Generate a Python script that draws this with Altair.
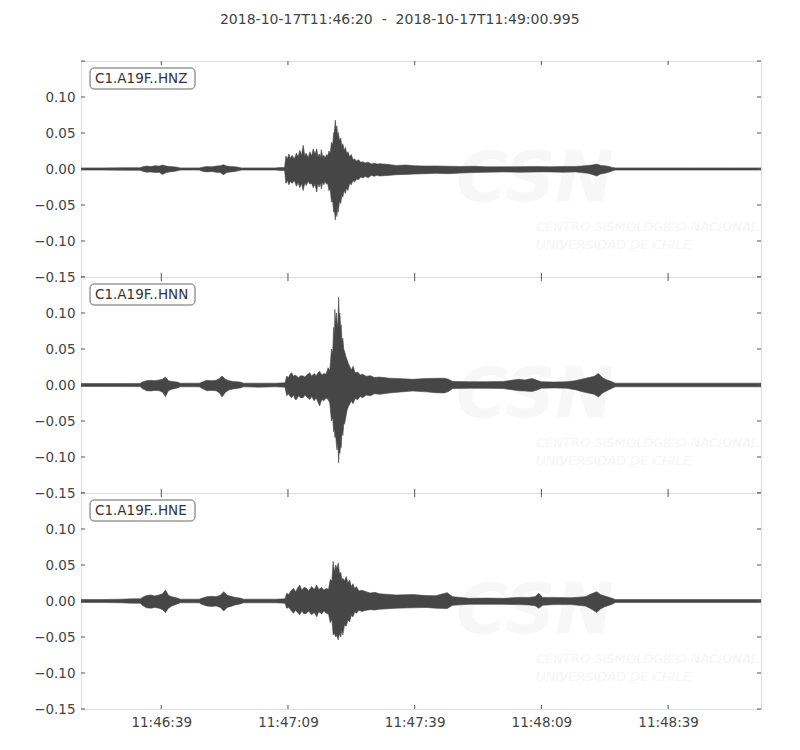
import altair as alt
import pandas as pd

title_text = "2018-10-17T11:46:20\u00a0\u00a0-\u00a0\u00a02018-10-17T11:49:00.995"
channel_names = ["C1.A19F..HNZ", "C1.A19F..HNN", "C1.A19F..HNE"]
t_end = 160.995
x_tick_seconds = [19, 49, 79, 109, 139]
x_tick_labels = ["11:46:39", "11:47:09", "11:47:39", "11:48:09", "11:48:39"]
y_tick_values = [-0.15, -0.10, -0.05, 0.0, 0.05, 0.10, 0.15]
y_label_values = [-0.15, -0.10, -0.05, 0.0, 0.05, 0.10]

# Envelopes: seconds after 11:46:20, upper / lower amplitude.
# ---- HNZ ----
hnz_pre_t = [0, 5, 10, 14, 14.6, 15.5, 16.5, 17.5, 18.5, 19.3, 20.2, 21, 22, 22.8, 23.5, 28, 28.7, 29.8, 31, 32,
             33, 33.7, 34.5, 35.5, 36.5, 37.2, 38, 46, 47]
hnz_pre_hi = [0.0015, 0.0015, 0.0018, 0.0018, 0.003, 0.004, 0.0035, 0.0045, 0.004, 0.0055, 0.004, 0.0035, 0.003,
              0.0025, 0.0015, 0.0015, 0.0025, 0.0035, 0.003, 0.004, 0.0045, 0.006, 0.004, 0.0035, 0.003, 0.0025,
              0.0015, 0.0015, 0.002]
hnz_pre_lo = [-0.0015, -0.0015, -0.0018, -0.0018, -0.003, -0.0045, -0.004, -0.005, -0.0045, -0.0075, -0.005,
              -0.004, -0.0035, -0.0025, -0.0015, -0.0015, -0.003, -0.004, -0.0035, -0.0045, -0.005, -0.008, -0.005,
              -0.004, -0.0035, -0.0025, -0.0015, -0.0015, -0.002]
hnz_main_t = [48.2, 48.5, 48.9, 49.2, 49.6, 50, 50.5, 51, 51.4, 51.8, 52.2, 52.6, 53.0, 53.3, 53.8, 54.2, 54.6, 55,
              55.4, 55.8, 56.1, 56.4, 56.7, 56.9, 57.2, 57.5, 57.8, 58.1, 58.4, 58.7, 59.0, 59.3, 59.6, 59.8, 60.0,
              60.2, 60.4, 60.6, 60.75, 60.9, 61.2, 61.5, 61.75, 62.0, 62.3, 62.6, 62.9, 63.2, 63.6, 64, 64.4, 64.8,
              65.2, 65.7, 66.2, 66.7, 67.3, 68, 68.7, 69.5, 70.1, 70.7]
hnz_main_hi = [0.002, 0.018, 0.014, 0.021, 0.015, 0.019, 0.014, 0.022, 0.017, 0.026, 0.019, 0.033, 0.018, 0.022,
               0.016, 0.024, 0.018, 0.028, 0.02, 0.028, 0.017, 0.021, 0.016, 0.027, 0.017, 0.019, 0.015, 0.020,
               0.018, 0.025, 0.022, 0.037, 0.034, 0.05, 0.052, 0.068, 0.055, 0.06, 0.045, 0.051, 0.04, 0.043,
               0.032, 0.035, 0.026, 0.03, 0.022, 0.024, 0.017, 0.02, 0.013, 0.014, 0.011, 0.013, 0.0095, 0.010,
               0.0085, 0.0095, 0.007, 0.008, 0.0068, 0.0074]
hnz_main_lo = [-0.002, -0.02, -0.016, -0.022, -0.017, -0.02, -0.016, -0.024, -0.019, -0.026, -0.02, -0.030, -0.019,
               -0.023, -0.017, -0.021, -0.02, -0.026, -0.021, -0.032, -0.02, -0.025, -0.019, -0.028, -0.018,
               -0.022, -0.017, -0.021, -0.02, -0.03, -0.028, -0.046, -0.045, -0.06, -0.058, -0.071, -0.06, -0.066,
               -0.052, -0.06, -0.045, -0.048, -0.036, -0.039, -0.03, -0.034, -0.026, -0.030, -0.02, -0.022, -0.016,
               -0.018, -0.014, -0.015, -0.011, -0.0125, -0.0105, -0.012, -0.009, -0.01, -0.0088, -0.0097]
hnz_post_t = [72.5, 74.6, 77, 79, 81.7, 84, 87, 90, 93, 96, 100, 104, 108, 111, 114, 117, 118.5, 120, 121, 122.1,
              123, 124, 125, 125.6, 126.5, 135, 145, 155, 160.995]
hnz_post_hi = [0.0065, 0.005, 0.0055, 0.0045, 0.004, 0.0042, 0.0038, 0.0035, 0.0038, 0.003, 0.003, 0.0032, 0.0035,
               0.003, 0.0035, 0.0035, 0.004, 0.005, 0.0055, 0.0068, 0.005, 0.0045, 0.0035, 0.0025, 0.0015, 0.0015,
               0.0015, 0.0015, 0.0015]
hnz_post_lo = [-0.009, -0.008, -0.0075, -0.007, -0.0065, -0.006, -0.0065, -0.0055, -0.005, -0.0045, -0.004,
               -0.0045, -0.004, -0.004, -0.0045, -0.004, -0.005, -0.006, -0.0075, -0.0097, -0.007, -0.006, -0.0045,
               -0.003, -0.0015, -0.0015, -0.0015, -0.0015, -0.0015]

# ---- HNN ----
hnn_pre_t = [0, 5, 10, 14, 14.5, 15.5, 16.5, 17.5, 18.5, 19.3, 20, 20.7, 21.5, 22.8, 23.5, 28, 28.7, 29.8, 31, 32,
             32.8, 33.4, 34.2, 35, 36, 37.7, 38.5, 42, 46]
hnn_pre_hi = [0.002, 0.002, 0.002, 0.0022, 0.004, 0.006, 0.0065, 0.006, 0.007, 0.008, 0.011, 0.006, 0.005, 0.004,
              0.0025, 0.0025, 0.004, 0.0065, 0.006, 0.0065, 0.009, 0.0125, 0.008, 0.006, 0.005, 0.004, 0.0025,
              0.0025, 0.0025]
hnn_pre_lo = [-0.002, -0.002, -0.0022, -0.0022, -0.005, -0.008, -0.0083, -0.0075, -0.008, -0.01, -0.016, -0.008,
              -0.006, -0.004, -0.0025, -0.0025, -0.005, -0.008, -0.0075, -0.008, -0.011, -0.0167, -0.01, -0.007,
              -0.0055, -0.004, -0.0025, -0.003, -0.0025]
hnn_main_t = [48.3, 48.7, 49.1, 49.5, 49.9, 50.3, 50.7, 51.0, 51.5, 52.0, 52.6, 53.0, 53.5, 54.2, 54.6, 55.2, 55.7,
              56.1, 56.5, 57.0, 57.5, 58.0, 58.5, 58.9, 59.3, 59.6, 59.8, 60.0, 60.1, 60.3, 60.5, 60.6, 60.8, 61.0,
              61.15, 61.3, 61.45, 61.6, 61.8, 62.0, 62.2, 62.4, 62.7, 63.0, 63.3, 63.6, 64.0, 64.4, 64.9, 65.5,
              66.1, 66.7, 67.5, 68.5, 69.5, 70.7]
hnn_main_hi = [0.003, 0.0125, 0.01, 0.015, 0.017, 0.012, 0.014, 0.0125, 0.01, 0.013, 0.0125, 0.011, 0.014, 0.017,
               0.012, 0.016, 0.013, 0.017, 0.019, 0.014, 0.016, 0.015, 0.024, 0.02, 0.05, 0.045, 0.08, 0.07, 0.105,
               0.085, 0.1, 0.09, 0.08, 0.122, 0.095, 0.1, 0.08, 0.084, 0.06, 0.065, 0.05, 0.047, 0.04, 0.035, 0.03,
               0.026, 0.021, 0.026, 0.017, 0.018, 0.014, 0.015, 0.012, 0.013, 0.0105, 0.011]
hnn_main_lo = [-0.003, -0.015, -0.012, -0.016, -0.0176, -0.014, -0.02, -0.02, -0.015, -0.018, -0.0176, -0.014,
               -0.017, -0.02, -0.016, -0.022, -0.018, -0.024, -0.029, -0.02, -0.022, -0.018, -0.02, -0.025, -0.05,
               -0.045, -0.065, -0.06, -0.073, -0.07, -0.085, -0.09, -0.08, -0.108, -0.09, -0.095, -0.085, -0.087,
               -0.065, -0.07, -0.055, -0.054, -0.045, -0.035, -0.03, -0.027, -0.022, -0.026, -0.019, -0.02, -0.016,
               -0.0176, -0.014, -0.015, -0.012, -0.013]
hnn_post_t = [73, 75, 78.5, 81.7, 84, 86, 87, 88, 92, 96, 100, 103.7, 105, 106.8, 108, 109, 112, 115, 117, 118.5,
              120, 121.5, 122.5, 123.5, 124.5, 125.6, 126.5, 135, 145, 155, 160.995]
hnn_post_hi = [0.0095, 0.009, 0.0079, 0.009, 0.0093, 0.0095, 0.008, 0.005, 0.0046, 0.0046, 0.005, 0.0079, 0.007,
               0.009, 0.0065, 0.0045, 0.004, 0.0045, 0.006, 0.008, 0.01, 0.012, 0.016, 0.01, 0.007, 0.005, 0.0025,
               0.0025, 0.0025, 0.0025, 0.0025]
hnn_post_lo = [-0.011, -0.01, -0.0083, -0.0095, -0.0107, -0.011, -0.009, -0.005, -0.0046, -0.0046, -0.005, -0.008,
               -0.0083, -0.009, -0.007, -0.0045, -0.004, -0.0045, -0.0065, -0.009, -0.011, -0.013, -0.0167, -0.011,
               -0.008, -0.005, -0.0025, -0.0025, -0.0025, -0.0025, -0.0025]

# ---- HNE ----
hne_pre_t = [0, 5, 9.4, 12, 14.1, 14.5, 15.5, 16.5, 17.5, 18.5, 19.3, 20, 20.7, 21.5, 22.8, 23.5, 28, 28.7, 29.8,
             31, 32, 33, 33.8, 34.6, 35.5, 36.5, 37.7, 38.5, 46]
hne_pre_hi = [0.002, 0.002, 0.0025, 0.003, 0.003, 0.005, 0.0075, 0.0083, 0.007, 0.0085, 0.01, 0.0153, 0.008, 0.006,
              0.004, 0.0025, 0.0025, 0.004, 0.006, 0.0065, 0.006, 0.008, 0.013, 0.008, 0.0065, 0.005, 0.004,
              0.0025, 0.0025]
hne_pre_lo = [-0.002, -0.002, -0.0025, -0.003, -0.003, -0.006, -0.0095, -0.01, -0.009, -0.01, -0.012, -0.016,
              -0.01, -0.007, -0.004, -0.0025, -0.0025, -0.005, -0.007, -0.0075, -0.007, -0.009, -0.014, -0.009,
              -0.0075, -0.0055, -0.004, -0.0025, -0.0025]
hne_main_t = [48.3, 48.7, 49.2, 49.7, 50.3, 50.8, 51.3, 51.8, 52.3, 52.8, 53.4, 53.9, 54.6, 55.2, 55.8, 56.3, 57.0,
              57.5, 58.1, 58.6, 59.0, 59.4, 59.7, 60.0, 60.3, 60.6, 60.9, 61.2, 61.5, 61.75, 62.0, 62.4, 62.8,
              63.2, 63.6, 64.0, 64.4, 64.8, 65.2, 65.8, 66.5, 67.5, 68.5, 69.5, 70.7]
hne_main_hi = [0.003, 0.0107, 0.009, 0.014, 0.0176, 0.013, 0.018, 0.022, 0.015, 0.019, 0.0176, 0.014, 0.02, 0.016,
               0.022, 0.016, 0.019, 0.015, 0.0176, 0.016, 0.03, 0.028, 0.055, 0.04, 0.05, 0.045, 0.053, 0.038, 0.04,
               0.03, 0.0315, 0.028, 0.034, 0.025, 0.029, 0.02, 0.024, 0.017, 0.02, 0.014, 0.015, 0.013, 0.011,
               0.012, 0.01]
hne_main_lo = [-0.003, -0.010, -0.009, -0.013, -0.017, -0.013, -0.016, -0.019, -0.014, -0.018, -0.017, -0.014,
               -0.019, -0.016, -0.022, -0.015, -0.018, -0.014, -0.017, -0.018, -0.03, -0.026, -0.047, -0.045,
               -0.05, -0.048, -0.054, -0.045, -0.05, -0.04, -0.047, -0.033, -0.035, -0.026, -0.029, -0.02, -0.022,
               -0.015, -0.017, -0.013, -0.0145, -0.013, -0.012, -0.0125, -0.0115]
hne_post_t = [74.6, 78.5, 81.7, 84, 86.7, 88, 92, 96, 100, 103.7, 106, 107.5, 108.4, 109.3, 112, 116, 119.4, 120.5,
              121.3, 122.1, 123, 124, 125.6, 126.5, 135, 145, 155, 160.995]
hne_post_hi = [0.0083, 0.009, 0.0075, 0.0074, 0.0116, 0.006, 0.0037, 0.004, 0.0037, 0.005, 0.005, 0.006, 0.0107,
               0.005, 0.005, 0.0045, 0.006, 0.009, 0.011, 0.013, 0.009, 0.007, 0.004, 0.002, 0.002, 0.002, 0.002,
               0.002]
hne_post_lo = [-0.010, -0.0095, -0.009, -0.010, -0.0105, -0.006, -0.0046, -0.0046, -0.0046, -0.005, -0.0055,
               -0.0065, -0.010, -0.006, -0.005, -0.005, -0.007, -0.01, -0.013, -0.016, -0.011, -0.008, -0.005,
               -0.002, -0.002, -0.002, -0.002, -0.002]

W, H = 680, 216
FONT = "DejaVu Sans"
WAVE = "#464646"
TXT = "#444444"
FRAME = "#555555"

x_label_expr = "".join(
    f"datum.value == {s} ? '{l}' : " for s, l in zip(x_tick_seconds, x_tick_labels)
) + "''"


def panel(name, t, hi, lo, show_x):
    df = pd.DataFrame({"t": t, "hi": hi, "lo": lo})
    xscale = alt.Scale(domain=[0, t_end], nice=False, zero=False)
    yscale = alt.Scale(domain=[-0.15, 0.15], nice=False, zero=False)
    if show_x:
        xaxis = alt.Axis(values=x_tick_seconds, labelExpr=x_label_expr, ticks=False, domain=False,
                         grid=False, title=None, labelPadding=6, labelFontSize=13.5, labelColor=TXT,
                         labelFont=FONT, labelFlush=False, labelOverlap=False)
    else:
        xaxis = None
    yaxis = alt.Axis(values=y_label_values, format=".2f",
                     labelExpr="replace(datum.label, '-', '\u2212')", ticks=False, domain=False,
                     grid=False, title=None, labelPadding=6, labelFontSize=13.5, labelColor=TXT,
                     labelFont=FONT, minExtent=67, maxExtent=67, labelOverlap=False)

    wm1 = alt.Chart(pd.DataFrame({"s": ["CSN"]})).mark_text(
        align="left", baseline="alphabetic", fontSize=70, fontStyle="italic", fontWeight="bold",
        font=FONT, color="#f7f7f7").encode(x=alt.value(375), y=alt.value(140), text="s:N")
    wm2 = alt.Chart(pd.DataFrame({"s": ["CENTRO SISMOLÓGICO NACIONAL"]})).mark_text(
        align="left", baseline="alphabetic", fontSize=13, fontStyle="italic", font=FONT,
        color="#f5f5f5").encode(x=alt.value(455), y=alt.value(170), text="s:N")
    wm3 = alt.Chart(pd.DataFrame({"s": ["UNIVERSIDAD DE CHILE"]})).mark_text(
        align="left", baseline="alphabetic", fontSize=13, fontStyle="italic", font=FONT,
        color="#f5f5f5").encode(x=alt.value(455), y=alt.value(188), text="s:N")

    area = alt.Chart(df).mark_area(color=WAVE, stroke=WAVE, strokeWidth=0.6, interpolate="linear",
                                   clip=True).encode(
        x=alt.X("t:Q", scale=xscale, axis=xaxis),
        y=alt.Y("hi:Q", scale=yscale, axis=yaxis),
        y2="lo:Q",
    )

    xt = pd.DataFrame({"t": x_tick_seconds})
    yt = pd.DataFrame({"v": y_tick_values})
    tick_b = alt.Chart(xt).mark_rule(color=FRAME).encode(
        x=alt.X("t:Q", scale=xscale, axis=xaxis), y=alt.value(H), y2=alt.value(H - 4))
    tick_t = alt.Chart(xt).mark_rule(color=FRAME).encode(
        x=alt.X("t:Q", scale=xscale, axis=xaxis), y=alt.value(0), y2=alt.value(4))
    tick_l = alt.Chart(yt).mark_rule(color=FRAME).encode(
        y=alt.Y("v:Q", scale=yscale, axis=yaxis), x=alt.value(0), x2=alt.value(4))
    tick_r = alt.Chart(yt).mark_rule(color=FRAME).encode(
        y=alt.Y("v:Q", scale=yscale, axis=yaxis), x=alt.value(W), x2=alt.value(W - 4))

    nd = pd.DataFrame({"name": [name]})
    box = alt.Chart(nd).mark_rect(fill="white", stroke="#666666", strokeWidth=1, cornerRadius=4).encode(
        x=alt.value(9), x2=alt.value(114), y=alt.value(7), y2=alt.value(28))
    lab = alt.Chart(nd).mark_text(align="left", baseline="middle", fontSize=13.5, font=FONT,
                                  color="#333333").encode(
        x=alt.value(14), y=alt.value(18), text="name:N")

    return alt.layer(wm1, wm2, wm3, area, tick_b, tick_t, tick_l, tick_r, box, lab).properties(
        width=W, height=H)


p1 = panel(channel_names[0], hnz_pre_t + hnz_main_t + hnz_post_t,
           hnz_pre_hi + hnz_main_hi + hnz_post_hi, hnz_pre_lo + hnz_main_lo + hnz_post_lo, False)
p2 = panel(channel_names[1], hnn_pre_t + hnn_main_t + hnn_post_t,
           hnn_pre_hi + hnn_main_hi + hnn_post_hi, hnn_pre_lo + hnn_main_lo + hnn_post_lo, False)
p3 = panel(channel_names[2], hne_pre_t + hne_main_t + hne_post_t,
           hne_pre_hi + hne_main_hi + hne_post_hi, hne_pre_lo + hne_main_lo + hne_post_lo, True)

chart = alt.vconcat(p1, p2, p3, spacing=0, bounds="flush").properties(
    title=alt.TitleParams(title_text, anchor="middle", fontSize=14, fontWeight="normal", font=FONT,
                          color=TXT, offset=33, dx=12),
    padding={"left": 5, "top": 5, "right": 5, "bottom": 5},
).configure_view(stroke=FRAME, strokeWidth=1).configure(background="white")

chart.save("out.html", embed_options={"renderer": "svg", "actions": False})
